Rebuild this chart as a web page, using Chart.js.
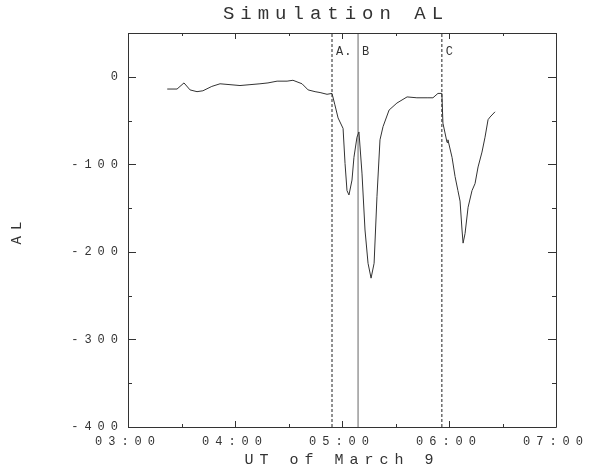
<!DOCTYPE html>
<html>
<head>
<meta charset="utf-8">
<script src="https://cdn.jsdelivr.net/npm/chart.js@4/dist/chart.umd.min.js"></script>
<style>
  html, body { margin: 0; padding: 0; background: #fff; }
  #wrap { width: 590px; height: 469px; }
</style>
</head>
<body>
<div id="wrap"><canvas id="al_chart"></canvas></div>
<script>
// UT in minutes after 00:00 on March 9
const times = [202, 207.5, 211.4, 214.8, 218.7, 222, 227, 231.6, 237.2, 242.8, 248.4, 254, 258.5,
  263.6, 269.2, 272.5, 277.6, 281, 284.9, 287.7, 291.6, 294.4, 296, 297.8, 300.6, 301.7, 302.8,
  303.9, 305.6, 306.7, 308.4, 309.5, 311.2, 312.9, 314.6, 316.3, 318, 319.6, 321.3, 323, 326.4,
  330.8, 336.5, 342, 347.7, 351, 353.8, 356, 356.6, 358.9, 359.4, 361.7, 363.4, 365, 366.2,
  367.3, 367.9, 369, 370.7, 372.9, 374.6, 376.3, 378.5, 380.2, 381.9, 383, 385.8];
const alValues = [-14, -14, -7, -15, -17, -16, -11, -8, -9, -10, -9, -8, -7,
  -5, -5, -4, -8, -15, -17, -18, -20, -19, -32, -47, -59, -99, -130,
  -135, -118, -92, -69, -63, -110, -175, -213, -230, -213, -137, -72, -57, -38,
  -30, -23, -24, -24, -24, -19, -19, -53, -75, -72, -92, -114, -130, -142,
  -175, -190, -179, -149, -130, -122, -103, -86, -69, -49, -46, -40];

const eventNames = ['A.', 'B', 'C'];
const eventTimes = [294.4, 309, 356];

const xMin = 180, xMax = 420;
const yMin = -400, yMax = 50;
const titleText = 'Simulation AL';

const fontFamily = "'Liberation Mono', 'DejaVu Sans Mono', monospace";
const ink = '#333';

const pad2 = (n) => String(n).padStart(2, '0');

const spacing = {
  id: 'letterSpacing',
  beforeUpdate(chart) { chart.ctx.letterSpacing = '6px'; },
  beforeDraw(chart) { chart.ctx.letterSpacing = '6px'; }
};

const boxTicks = {
  id: 'boxTicks',
  afterDatasetsDraw(chart) {
    const ctx = chart.ctx;
    const {left, right, top, bottom} = chart.chartArea;
    const x = chart.scales.x;
    const y = chart.scales.y;
    ctx.save();
    ctx.strokeStyle = ink;
    ctx.lineWidth = 1;
    ctx.beginPath();
    ctx.rect(Math.round(left) + 0.5, Math.round(top) + 0.5,
      Math.round(right - left), Math.round(bottom - top));
    x.ticks.forEach(t => {
      const px = Math.round(x.getPixelForValue(t.value)) + 0.5;
      const len = t.value % 60 === 0 ? 6 : 3;
      ctx.moveTo(px, bottom); ctx.lineTo(px, bottom - len);
      ctx.moveTo(px, top); ctx.lineTo(px, top + len);
    });
    y.ticks.forEach(t => {
      const py = Math.round(y.getPixelForValue(t.value)) + 0.5;
      const len = t.value % 100 === 0 ? 8 : 4;
      ctx.moveTo(left, py); ctx.lineTo(left + len, py);
      ctx.moveTo(right, py); ctx.lineTo(right - len, py);
    });
    ctx.stroke();

    ctx.fillStyle = ink;
    ctx.textBaseline = 'middle';

    // title over the plot box
    ctx.font = `19px ${fontFamily}`;
    ctx.textAlign = 'center';
    ctx.fillText(titleText, (left + right) / 2 - 6, 14);

    // event labels next to the vertical markers
    ctx.letterSpacing = '1px';
    ctx.font = `12px ${fontFamily}`;
    ctx.textAlign = 'left';
    eventNames.forEach((name, i) => {
      const px = x.getPixelForValue(eventTimes[i]);
      ctx.fillText(name, px + 4, top + 19);
    });
    ctx.restore();
  }
};

const eventSets = eventNames.map((name, i) => ({
  label: name,
  data: [{x: eventTimes[i], y: yMin}, {x: eventTimes[i], y: yMax}],
  borderColor: i === 1 ? '#666' : '#222',
  borderWidth: 1,
  borderDash: i === 1 ? [] : [3, 2],
  pointRadius: 0
}));

new Chart(document.getElementById('al_chart'), {
  type: 'line',
  data: {
    datasets: [{
      label: 'AL',
      data: times.map((t, i) => ({x: t, y: alValues[i]})),
      borderColor: ink,
      borderWidth: 1,
      pointRadius: 0,
      tension: 0
    }, ...eventSets]
  },
  options: {
    responsive: true,
    maintainAspectRatio: false,
    animation: false,
    events: [],
    layout: { padding: { left: 0, right: 34, top: 33, bottom: 0 } },
    plugins: {
      legend: { display: false },
      tooltip: { enabled: false },
      title: { display: false }
    },
    scales: {
      x: {
        type: 'linear',
        min: xMin,
        max: xMax,
        grid: { display: false, drawTicks: false },
        border: { display: false },
        ticks: {
          stepSize: 30,
          autoSkip: false,
          maxRotation: 0,
          padding: 8,
          color: ink,
          font: { family: fontFamily, size: 12 },
          callback: (v) => v % 60 === 0 ? `${pad2(v / 60)}:00` : ''
        },
        title: {
          display: true,
          text: 'UT of March 9',
          color: ink,
          font: { family: fontFamily, size: 15 },
          padding: { top: 0, bottom: 0 }
        },
        afterFit: (scale) => {
          scale.height = 42;
          scale.paddingLeft = 0;
          scale.paddingRight = 0;
        }
      },
      y: {
        min: yMin,
        max: yMax,
        grid: { display: false, drawTicks: false },
        border: { display: false },
        ticks: {
          stepSize: 50,
          padding: 4,
          color: ink,
          font: { family: fontFamily, size: 12 },
          callback: (v) => v % 100 === 0 ? String(v) : ''
        },
        title: {
          display: true,
          text: 'AL',
          color: ink,
          font: { family: fontFamily, size: 14 },
          padding: { top: 9, bottom: 0 }
        },
        afterFit: (scale) => {
          scale.width = 128;
          scale.paddingTop = 0;
          scale.paddingBottom = 0;
        }
      }
    }
  },
  plugins: [spacing, boxTicks]
});
</script>
</body>
</html>
